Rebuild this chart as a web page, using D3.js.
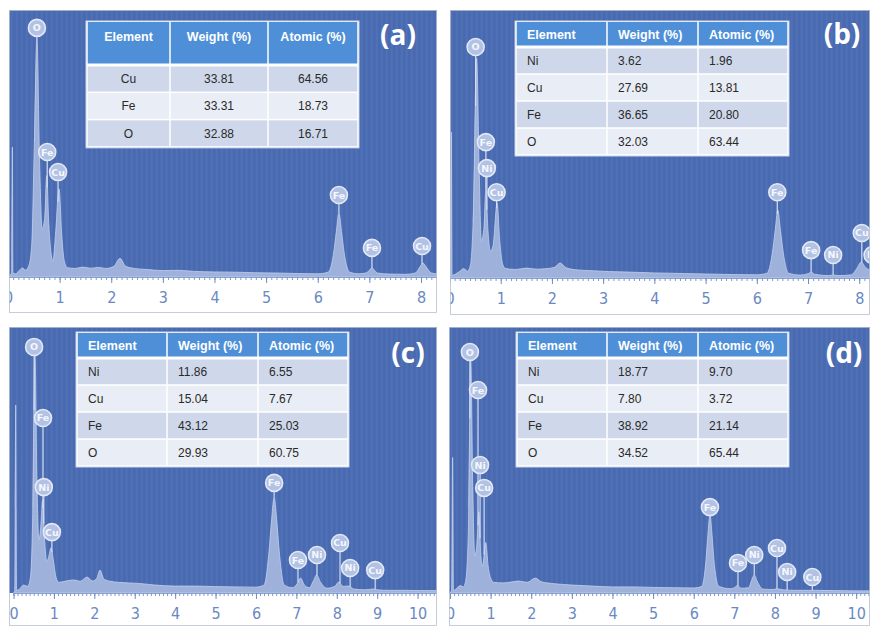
<!DOCTYPE html>
<html>
<head>
<meta charset="utf-8">
<script src="https://cdn.jsdelivr.net/npm/d3@7"></script>
<style>
  html, body { margin: 0; padding: 0; background: #fff; }
  svg { display: block; }
</style>
</head>
<body>
<script>
// EDS spectra, counts as % of panel height, [keV, value]
const spectrumA = [
  [0, 0], [0.03, 0.5], [0.07, 1.5], [0.085, 48.7], [0.095, 1.5], [0.15, 1.2], [0.22, 2.5], [0.28, 3.4],
  [0.34, 2.6], [0.40, 4], [0.46, 12], [0.51, 50], [0.56, 90], [0.61, 45], [0.66, 18], [0.71, 22],
  [0.75, 38], [0.79, 20], [0.84, 8], [0.87, 6], [0.92, 16], [0.99, 33], [1.04, 16], [1.09, 6],
  [1.15, 3.5], [1.3, 3.2], [1.45, 3.7], [1.6, 3.3], [1.75, 3.6], [1.9, 3.2], [2.05, 4], [2.17, 7],
  [2.28, 4], [2.45, 3.2], [2.7, 2.8], [3.0, 2.4], [3.3, 2.5], [3.6, 2.1], [4.0, 1.9], [4.4, 1.8],
  [4.8, 1.6], [5.2, 1.5], [5.6, 1.3], [6.0, 1.2], [6.2, 1.8], [6.3, 8], [6.36, 17], [6.41, 24],
  [6.46, 17], [6.52, 8], [6.62, 1.8], [6.8, 1.2], [6.95, 1.6], [7.05, 3.4], [7.15, 1.5], [7.4, 1.1],
  [7.7, 1.0], [7.9, 1.6], [7.98, 3.8], [8.04, 5.2], [8.10, 3.8], [8.2, 1.5], [8.31, 1.2]
];
const spectrumB = [
  [0, 0], [0.02, 1], [0.035, 54.5], [0.05, 1], [0.12, 1.5], [0.2, 2.5], [0.28, 3.5], [0.35, 2.5],
  [0.41, 5], [0.46, 20], [0.53, 82], [0.58, 40], [0.62, 14], [0.67, 18], [0.71, 33], [0.75, 18],
  [0.8, 10], [0.85, 12], [0.93, 28], [0.98, 14], [1.04, 5], [1.1, 3.5], [1.3, 3.2], [1.5, 3.7],
  [1.7, 3.3], [1.9, 3.5], [2.05, 4], [2.16, 5.6], [2.28, 3.8], [2.5, 3], [2.8, 2.7], [3.1, 2.4],
  [3.5, 2.2], [4.0, 1.9], [4.5, 1.7], [5.0, 1.5], [5.5, 1.3], [6.0, 1.2], [6.2, 1.8], [6.3, 9],
  [6.36, 18], [6.41, 25.4], [6.46, 18], [6.52, 9], [6.62, 1.8], [6.85, 1.1], [7.0, 1.6], [7.06, 2.2],
  [7.13, 1.4], [7.4, 0.9], [7.49, 1.1], [7.6, 0.9], [7.85, 1.2], [7.95, 3.5], [8.04, 6], [8.12, 4],
  [8.21, 3]
];
const spectrumC = [
  [0, 0], [0.03, 1], [0.055, 70.7], [0.075, 1], [0.15, 1.5], [0.25, 3], [0.35, 2.5], [0.42, 6],
  [0.47, 25], [0.53, 90.6], [0.58, 42], [0.63, 20], [0.68, 26], [0.72, 35], [0.77, 20], [0.82, 12],
  [0.86, 13], [0.93, 17], [0.99, 12], [1.05, 6], [1.12, 4], [1.3, 4.5], [1.5, 4.9], [1.65, 4.4],
  [1.82, 6], [1.95, 4.5], [2.06, 5.5], [2.14, 8.6], [2.24, 5.2], [2.4, 4.4], [2.6, 4], [2.85, 3.8],
  [3.1, 3.6], [3.5, 3], [4.0, 2.6], [4.5, 2.6], [5.0, 2.4], [5.5, 2.3], [6.0, 2.2], [6.2, 3],
  [6.32, 15], [6.39, 28], [6.45, 36], [6.51, 28], [6.58, 15], [6.7, 3], [6.9, 2], [7.02, 3.5],
  [7.1, 5.6], [7.2, 3], [7.32, 2], [7.42, 4.5], [7.5, 6.8], [7.6, 4], [7.75, 1.8], [7.95, 2.5],
  [8.05, 4.1], [8.15, 2.5], [8.3, 2.6], [8.42, 1.5], [8.7, 1.2], [8.9, 1.5], [9.0, 1.2], [9.3, 1],
  [9.7, 1], [10.1, 0.9], [10.48, 0.9]
];
const spectrumD = [
  [0, 0], [0.04, 1], [0.065, 51], [0.085, 1], [0.15, 1.5], [0.25, 2.8], [0.33, 2.3], [0.39, 5],
  [0.45, 22], [0.51, 87.6], [0.56, 40], [0.61, 14], [0.66, 18], [0.71, 30.5], [0.76, 14], [0.8, 10],
  [0.88, 19], [0.94, 10], [1.0, 5.6], [1.08, 4], [1.3, 3.8], [1.5, 4.1], [1.7, 4.5], [1.9, 4],
  [2.1, 5.6], [2.25, 4.2], [2.5, 3.6], [2.8, 3.2], [3.0, 3], [3.5, 2.6], [4.0, 2.3], [4.5, 2.3],
  [5.0, 2.1], [5.5, 2], [6.0, 1.9], [6.2, 2.5], [6.3, 12], [6.35, 22], [6.4, 29.3], [6.45, 22],
  [6.5, 12], [6.62, 2.5], [6.9, 1.6], [7.0, 2], [7.08, 2.8], [7.16, 1.8], [7.35, 2], [7.43, 5],
  [7.49, 6.8], [7.56, 4.5], [7.7, 1.5], [7.95, 1.3], [8.05, 1.6], [8.2, 1.2], [8.5, 1], [9.0, 1],
  [9.5, 0.9], [10.0, 0.8], [10.34, 0.8]
];

// peak markers: [element, keV, height of marker centre]
const labelsA = [["O", 0.56, 93.3], ["Fe", 0.76, 46.8], ["Cu", 0.97, 39.3], ["Fe", 6.41, 30.7], ["Fe", 7.05, 10.9], ["Cu", 8.02, 11.6]];
const labelsB = [["O", 0.51, 86.2], ["Fe", 0.71, 50.7], ["Ni", 0.73, 41], ["Cu", 0.92, 32], ["Fe", 6.40, 32], ["Fe", 7.06, 10.4], ["Ni", 7.49, 8.6], ["Cu", 8.05, 16.8], ["Ni", 8.26, 8.6]];
const labelsC = [["O", 0.51, 92.5], ["Fe", 0.73, 65.8], ["Ni", 0.75, 39.8], ["Cu", 0.95, 22.9], ["Fe", 6.45, 41.4], ["Fe", 7.04, 12.4], ["Ni", 7.51, 14.3], ["Cu", 8.08, 18.8], ["Ni", 8.33, 9.4], ["Cu", 8.95, 8.6]];
const labelsD = [["O", 0.49, 90.6], ["Fe", 0.69, 76.3], ["Ni", 0.74, 48.1], ["Cu", 0.84, 39.5], ["Fe", 6.40, 32.3], ["Fe", 7.09, 11.3], ["Ni", 7.49, 14.3], ["Cu", 8.05, 16.9], ["Ni", 8.30, 7.9], ["Cu", 8.92, 6.0]];

const tableHeader = ["Element", "Weight (%)", "Atomic (%)"];
const tableA = [["Cu", "33.81", "64.56"], ["Fe", "33.31", "18.73"], ["O", "32.88", "16.71"]];
const tableB = [["Ni", "3.62", "1.96"], ["Cu", "27.69", "13.81"], ["Fe", "36.65", "20.80"], ["O", "32.03", "63.44"]];
const tableC = [["Ni", "11.86", "6.55"], ["Cu", "15.04", "7.67"], ["Fe", "43.12", "25.03"], ["O", "29.93", "60.75"]];
const tableD = [["Ni", "18.77", "9.70"], ["Cu", "7.80", "3.72"], ["Fe", "38.92", "21.14"], ["O", "34.52", "65.44"]];

const panelTags = ["(a)", "(b)", "(c)", "(d)"];
const keVMax = [8.31, 8.21, 10.48, 10.34];

const width = 870, height = 626;

// layout of each panel, in pixels
const panels = [
  {left: 9, right: 437, top: 10, base: 277, bottom: 313, x0: 8,
   spec: spectrumA, labels: labelsA, rows: tableA,
   tbl: {x: 87, y: 22, cols: [83, 98, 90], headH: 43, rowH: 27.3, center: true}, tag: [398, 45]},
  {left: 450, right: 870, top: 10, base: 278, bottom: 315, x0: 449.5,
   spec: spectrumB, labels: labelsB, rows: tableB,
   tbl: {x: 516, y: 22, cols: [91, 91, 90], headH: 25, rowH: 27, center: false}, tag: [842, 44]},
  {left: 9, right: 437, top: 327, base: 593, bottom: 626, x0: 13.5,
   spec: spectrumC, labels: labelsC, rows: tableC,
   tbl: {x: 77, y: 333, cols: [90, 91, 90], headH: 25, rowH: 27, center: false}, tag: [408, 363]},
  {left: 449, right: 870, top: 327, base: 593, bottom: 626, x0: 450,
   spec: spectrumD, labels: labelsD, rows: tableD,
   tbl: {x: 517, y: 333, cols: [90, 91, 90], headH: 25, rowH: 27, center: false}, tag: [844, 363]}
];

const svg = d3.select("body").append("svg")
    .attr("width", width)
    .attr("height", height)
    .attr("viewBox", [0, 0, width, height]);

const defs = svg.append("defs");
const pat = defs.append("pattern")
    .attr("id", "stripes")
    .attr("patternUnits", "userSpaceOnUse")
    .attr("width", 5).attr("height", 10);
pat.append("rect").attr("width", 5).attr("height", 10).attr("fill", "#4a6cb3");
pat.append("rect").attr("x", 1).attr("width", 1.5).attr("height", 10).attr("fill", "#ffffff").attr("fill-opacity", 0.035);
pat.append("rect").attr("x", 3.5).attr("width", 1).attr("height", 10).attr("fill", "#1a2f70").attr("fill-opacity", 0.05);

function valueAt(spec, k) {
  const i = d3.bisector(d => d[0]).left(spec, k);
  if (i <= 0) return spec[0][1];
  if (i >= spec.length) return spec[spec.length - 1][1];
  const [k0, v0] = spec[i - 1], [k1, v1] = spec[i];
  return v0 + (v1 - v0) * (k - k0) / (k1 - k0);
}

panels.forEach((p, pi) => {
  const g = svg.append("g");
  const clipId = "clip" + pi;
  defs.append("clipPath").attr("id", clipId)
    .append("rect")
      .attr("x", p.left).attr("y", p.top)
      .attr("width", p.right - p.left).attr("height", p.bottom - p.top);
  g.attr("clip-path", `url(#${clipId})`);

  const x = d3.scaleLinear().domain([0, keVMax[pi]]).range([p.x0, p.right]);
  const y = d3.scaleLinear().domain([0, 100]).range([p.base, p.top]);

  // white axis strip and blue plot area
  g.append("rect")
      .attr("x", p.left).attr("y", p.top)
      .attr("width", p.right - p.left).attr("height", p.bottom - p.top)
      .attr("fill", "#ffffff");
  g.append("rect")
      .attr("x", p.left).attr("y", p.top)
      .attr("width", p.right - p.left).attr("height", p.base - p.top)
      .attr("fill", "url(#stripes)");

  // spectrum
  const area = d3.area()
      .x(d => x(d[0]))
      .y0(p.base)
      .y1(d => y(d[1]))
      .curve(d3.curveMonotoneX);
  g.append("path")
      .datum(p.spec)
      .attr("d", area)
      .attr("fill", "#a9bbe0")
      .attr("fill-opacity", 0.88)
      .attr("stroke", "#c3d0ec")
      .attr("stroke-width", 0.8);

  // axis
  const minor = d3.range(0, Math.round(keVMax[pi] * 10) + 1).map(i => i / 10);
  g.append("g")
      .attr("transform", `translate(0,${p.base})`)
      .call(d3.axisBottom(x).tickValues(minor).tickSize(3).tickFormat(""))
      .call(a => a.select(".domain").attr("stroke", "#8aa2d0"))
      .call(a => a.selectAll(".tick line").attr("stroke", "#7f98cc"));
  g.append("g")
      .attr("transform", `translate(0,${p.base})`)
      .call(d3.axisBottom(x).tickValues(d3.range(0, Math.floor(keVMax[pi]) + 1)).tickSize(6).tickFormat(d3.format("d")))
      .call(a => a.select(".domain").remove())
      .call(a => a.selectAll(".tick line").attr("stroke", "#6f8cc6"))
      .call(a => a.selectAll(".tick text")
          .attr("y", 15)
          .attr("fill", "#6a88c3")
          .attr("font-size", 16)
          .attr("font-family", "'Liberation Sans Narrow', 'DejaVu Sans Condensed', sans-serif"));

  // peak markers
  const r = 8.5;
  const mk = g.append("g");
  p.labels.forEach(([el, k, v]) => {
    const cx = x(k), cy = y(v);
    const topY = y(valueAt(p.spec, k));
    if (topY > cy + r) {
      mk.append("line")
          .attr("x1", cx).attr("x2", cx)
          .attr("y1", cy + r).attr("y2", topY)
          .attr("stroke", "#d3ddf2").attr("stroke-width", 1.2);
    }
    mk.append("circle")
        .attr("cx", cx).attr("cy", cy).attr("r", r)
        .attr("fill", "#b2c2e4")
        .attr("stroke", "#e2e8f5")
        .attr("stroke-width", 1.6);
    mk.append("text")
        .attr("x", cx).attr("y", cy + 3.5)
        .attr("text-anchor", "middle")
        .attr("font-family", "'DejaVu Sans', sans-serif")
        .attr("font-size", 9.5)
        .attr("font-weight", "bold")
        .attr("fill", "#f4f7fd")
        .text(el);
  });

  // composition table
  const t = p.tbl;
  const colX = [t.x, t.x + t.cols[0], t.x + t.cols[0] + t.cols[1]];
  const tw = d3.sum(t.cols);
  const tg = g.append("g").attr("font-family", "Arial, 'Liberation Sans', sans-serif");
  tg.append("rect")
      .attr("x", t.x - 1).attr("y", t.y - 1)
      .attr("width", tw + 2).attr("height", t.headH + t.rowH * p.rows.length + 2)
      .attr("fill", "#ffffff")
      .attr("stroke", "#c9d5ec").attr("stroke-width", 1);
  tableHeader.forEach((h, ci) => {
    tg.append("rect")
        .attr("x", colX[ci] + 0.75).attr("y", t.y)
        .attr("width", t.cols[ci] - 1.5).attr("height", t.headH - 1.5)
        .attr("fill", "#4e8fd8");
    tg.append("text")
        .attr("x", t.center ? colX[ci] + t.cols[ci] / 2 : colX[ci] + 11)
        .attr("y", t.center ? t.y + 19 : t.y + t.headH / 2 + 4.5)
        .attr("text-anchor", t.center ? "middle" : "start")
        .attr("font-size", 12.5)
        .attr("font-weight", "bold")
        .attr("fill", "#ffffff")
        .text(h);
  });
  p.rows.forEach((row, ri) => {
    const ry = t.y + t.headH + ri * t.rowH;
    row.forEach((cell, ci) => {
      tg.append("rect")
          .attr("x", colX[ci] + 0.75).attr("y", ry + (ri === 0 ? 1.5 : 0.75))
          .attr("width", t.cols[ci] - 1.5).attr("height", t.rowH - (ri === 0 ? 2.25 : 1.5))
          .attr("fill", ri % 2 === 0 ? "#cfd8ea" : "#e9edf5");
      tg.append("text")
          .attr("x", t.center ? colX[ci] + t.cols[ci] / 2 : colX[ci] + 11)
          .attr("y", ry + t.rowH / 2 + 4.5)
          .attr("text-anchor", t.center ? "middle" : "start")
          .attr("font-size", 12)
          .attr("fill", "#2a2a2a")
          .text(cell);
    });
  });

  // panel tag
  g.append("text")
      .attr("x", p.tag[0]).attr("y", p.tag[1])
      .attr("text-anchor", "middle")
      .attr("font-family", "'Open Sans', sans-serif")
      .attr("font-weight", "bold")
      .attr("font-size", 28)
      .attr("fill", "#ffffff")
      .text(panelTags[pi]);

  // thin frame
  svg.append("rect")
      .attr("x", p.left + 0.5).attr("y", p.top + 0.5)
      .attr("width", p.right - p.left - 1).attr("height", p.bottom - p.top - 1)
      .attr("fill", "none")
      .attr("stroke", "#b7c0d3").attr("stroke-width", 0.8);
});
</script>
</body>
</html>
